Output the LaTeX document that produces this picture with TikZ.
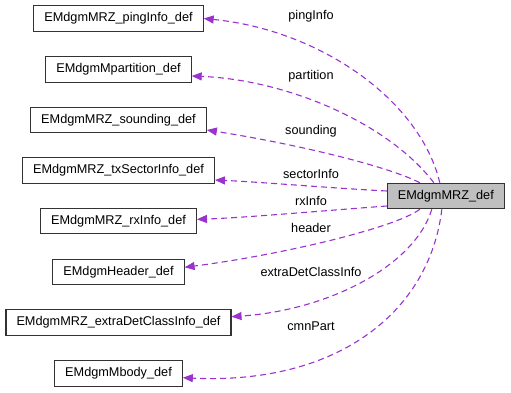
\documentclass[tikz,border=0pt]{standalone}
\usepackage{fontspec}
\setmainfont{Liberation Sans}
\usepackage{tikz}
\usetikzlibrary{arrows.meta}

\definecolor{edgecol}{HTML}{9A32CD}
\definecolor{maincol}{HTML}{BFBFBF}

\begin{document}
\begin{tikzpicture}[x=1pt, y=1pt,
  class/.style={draw, rectangle, line width=1.1pt, draw=black!80, minimum height=25.5pt, inner xsep=10.5pt, inner ysep=0pt, font=\fontsize{12.7}{15}\selectfont},
  member/.style={draw=edgecol, line width=1.1pt, dash pattern=on 6pt off 4pt, -{Triangle[length=10pt,width=8pt]}},
  lbl/.style={font=\fontsize{12.7}{15}\selectfont}]
\useasboundingbox (0,0) rectangle (511,392);

\node[class, fill=maincol](M0) at (445.8,196) {EMdgmMRZ\_def};

\node[class](C1) at (118.5,373.5) {EMdgmMRZ\_pingInfo\_def};
\node[class](C2) at (118.5,322.7) {EMdgmMpartition\_def};
\node[class](C3) at (118.5,272) {EMdgmMRZ\_sounding\_def};
\node[class](C4) at (118.5,221.7) {EMdgmMRZ\_txSectorInfo\_def};
\node[class](C5) at (118.5,171) {EMdgmMRZ\_rxInfo\_def};
\node[class](C6) at (118.5,120.2) {EMdgmHeader\_def};
\node[class](C7) at (118.5,69.5) {EMdgmMRZ\_extraDetClassInfo\_def};
\node[class](C8) at (118.5,18.7) {EMdgmMbody\_def};

\draw[member] ([xshift=-6pt]M0.north) .. controls (420,292) and (320,362) .. (C1.east);
\node[lbl] (C1_lbl) at (311,375.3) {pingInfo};
\draw[member] ([xshift=-12pt]M0.north) .. controls (390,267) and (290,312) .. ([yshift=-6.7pt]C2.east);
\node[lbl] (C2_lbl) at (311,315.3) {partition};
\draw[member] ([xshift=-26pt]M0.north) .. controls (385,227) and (290,249) .. ([yshift=-10pt]C3.east);
\node[lbl] (C3_lbl) at (311,260.3) {sounding};
\draw[member] ([yshift=5pt]M0.west) .. controls (330,204) and (260,210) .. ([yshift=-9.7pt]C4.east);
\node[lbl] (C4_lbl) at (311,217.7) {sectorInfo};
\draw[member] ([yshift=-10pt]M0.west) .. controls (320,181) and (240,174) .. ([yshift=1.7pt]C5.east);
\node[lbl] (C5_lbl) at (311,191.3) {rxInfo};
\draw[member] ([xshift=-26pt]M0.south) .. controls (395,164) and (280,137) .. ([yshift=4.5pt]C6.east);
\node[lbl] (C6_lbl) at (311,163.7) {header};
\draw[member] ([xshift=-14pt]M0.south) .. controls (415,127) and (330,82) .. ([yshift=5.8pt]C7.east);
\node[lbl] (C7_lbl) at (311,119.7) {extraDetClassInfo};
\draw[member] ([xshift=-4pt]M0.south) .. controls (430,82) and (340,7) .. ([yshift=-4.4pt]C8.east);
\node[lbl] (C8_lbl) at (311,66) {cmnPart};
\end{tikzpicture}
\end{document}
